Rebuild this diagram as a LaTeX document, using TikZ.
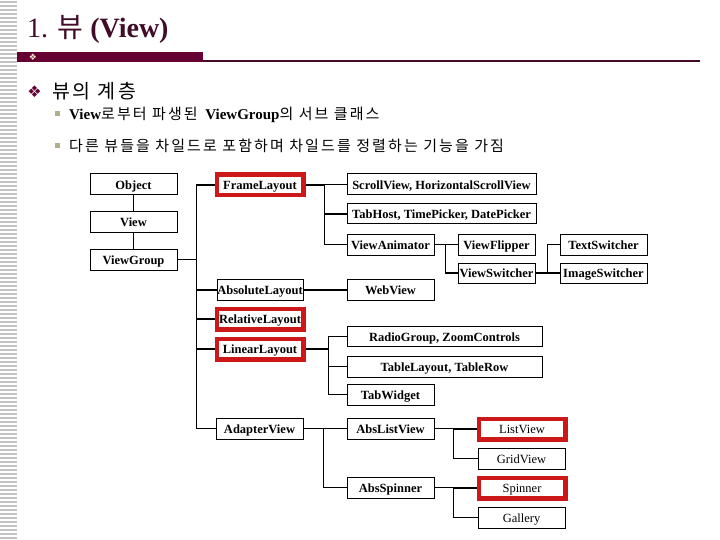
\documentclass[tikz,border=0pt]{standalone}
\usepackage{fontspec}
\setmainfont{Liberation Serif}
\newfontfamily\kr{Noto Sans CJK KR}
\newfontfamily\krw[LetterSpace=14]{Noto Sans CJK KR}
\newfontfamily\djv{DejaVu Sans}
\definecolor{maroon}{RGB}{102,0,51}
\definecolor{titlecol}{RGB}{64,12,40}
\definecolor{boxred}{RGB}{204,24,24}
\definecolor{stripe}{RGB}{195,195,195}
\definecolor{olive}{RGB}{178,176,140}
\begin{document}
\begin{tikzpicture}[x=1pt,y=-1pt,
  box/.style={draw=black, line width=1pt, inner sep=0pt, minimum height=21pt,
    text height=9.8pt, text depth=0pt,
    font=\fontsize{12.5}{14}\selectfont\bfseries},
  plainbox/.style={box, font=\fontsize{12.5}{14}\selectfont},
  redbox/.style={draw=boxred, line width=3pt, inner sep=0pt, minimum width=85pt, minimum height=19pt},
  conn/.style={line width=1.2pt, draw=black},
  txt/.style={inner sep=0pt}]
\useasboundingbox (0,0) rectangle (720,540);
% left stripe
\foreach \yy in {2,6,...,538} \draw[stripe, line width=1.1pt] (0,\yy) -- (17,\yy);
% title
\node[txt, anchor=base west, text=titlecol] (title) at (27,37.5)
  {\fontsize{28}{30}\selectfont 1. {\kr 뷰} \textbf{(View)}};
% bar
\fill[maroon] (17,52) rectangle (203,62.5);
\draw[titlecol, line width=2pt] (203,61.5) -- (700,61.5);
\node[txt, text={rgb,255:red,240;green,228;blue,205}] (barmark) at (33,57.5) {\djv\fontsize{9}{9}\selectfont ❖};
% bullet level 1
\node[txt, text=maroon] (b1) at (34.5,91.5) {\djv\fontsize{16}{16}\selectfont ❖};
\node[txt, anchor=west] (h1) at (52,91) {\krw\fontsize{19.5}{22}\selectfont 뷰의 계층};
% sub bullets
\fill[olive] (54.5,111.5) rectangle (59.5,116.5);
\fill[olive] (54.5,143.5) rectangle (59.5,148.5);
\node[txt, anchor=west] (s1) at (69,115)
  {\fontsize{15}{17}\selectfont\textbf{View}{\krw 로부터 파생된 }\textbf{ViewGroup}{\krw 의 서브 클래스}};
\node[txt, anchor=west] (s2) at (69,146)
  {\krw\fontsize{15}{17}\selectfont 다른 뷰들을 차일드로 포함하며 차일드를 정렬하는 기능을 가짐};
% boxes
\node[box, minimum width=87pt] (object) at (133.5,184.5) {Object};
\node[box, minimum width=87pt] (view) at (133.5,222) {View};
\node[box, minimum width=87pt] (viewgroup) at (133.5,259.5) {ViewGroup};
\node[box, redbox, minimum width=85pt] (frame) at (260,185) {FrameLayout};
\node[box, minimum width=189pt] (scroll) at (441.5,184.5) {ScrollView, HorizontalScrollView};
\node[box, minimum width=189pt, minimum height=20pt] (tabhost) at (441.5,214) {TabHost, TimePicker, DatePicker};
\node[box, minimum width=87pt] (animator) at (390.5,244.5) {ViewAnimator};
\node[box, minimum width=77pt] (flipper) at (496.5,244.5) {ViewFlipper};
\node[box, minimum width=77pt, minimum height=20pt] (switcher) at (496.5,273) {ViewSwitcher};
\node[box, minimum width=87pt] (textsw) at (603.5,244.5) {TextSwitcher};
\node[box, minimum width=87pt, minimum height=20pt] (imagesw) at (603.5,273) {ImageSwitcher};
\node[box, minimum width=86pt] (absolute) at (260,290) {AbsoluteLayout};
\node[box, minimum width=87pt] (webview) at (390.5,290) {WebView};
\node[box, redbox] (relative) at (260,319) {RelativeLayout};
\node[box, redbox] (linear) at (260,349) {LinearLayout};
\node[box, minimum width=195pt, minimum height=20pt] (radio) at (444.5,336.5) {RadioGroup, ZoomControls};
\node[box, minimum width=195pt] (table) at (444.5,366.5) {TableLayout, TableRow};
\node[box, minimum width=87pt] (tabwidget) at (390.5,394.5) {TabWidget};
\node[box, minimum width=87pt] (adapter) at (259.5,428.5) {AdapterView};
\node[box, minimum width=87pt] (abslist) at (390.5,428.5) {AbsListView};
\node[box, minimum width=87pt] (absspinner) at (390.5,487.5) {AbsSpinner};
\node[plainbox, redbox] (listview) at (522,429) {ListView};
\node[plainbox, minimum width=87pt] (gridview) at (521.5,458.5) {GridView};
\node[plainbox, redbox] (spinner) at (522,488) {Spinner};
\node[plainbox, minimum width=87pt] (gallery) at (521.5,517.5) {Gallery};
% connectors
\draw[conn] (object.south) -- (view.north);
\draw[conn] (view.south) -- (viewgroup.north);
\foreach \c in {frame,absolute,relative,linear,adapter}
  \draw[conn] (viewgroup.east) -- ++(19,0) |- (\c.west);
\foreach \c in {scroll,tabhost,animator}
  \draw[conn] (frame.east) -- ++(20.5,0) |- (\c.west);
\foreach \c in {flipper,switcher}
  \draw[conn] (animator.east) -- ++(11,0) |- (\c.west);
\foreach \c in {textsw,imagesw}
  \draw[conn] (switcher.east) -- ++(12,0) |- (\c.west);
\draw[conn] (absolute.east) -- (webview.west);
\foreach \c in {radio,table,tabwidget}
  \draw[conn] (linear.east) -- ++(24.5,0) |- (\c.west);
\foreach \c in {abslist,absspinner}
  \draw[conn] (adapter.east) -- ++(20,0) |- (\c.west);
\foreach \c in {listview,gridview}
  \draw[conn] (abslist.east) -- ++(19,0) |- (\c.west);
\foreach \c in {spinner,gallery}
  \draw[conn] (absspinner.east) -- ++(19,0) |- (\c.west);
% redraw red boxes on top of connectors
\foreach \c in {frame,relative,linear,listview,spinner}
  \draw[boxred, line width=3pt] (\c.north west) rectangle (\c.south east);
\end{tikzpicture}
\end{document}
